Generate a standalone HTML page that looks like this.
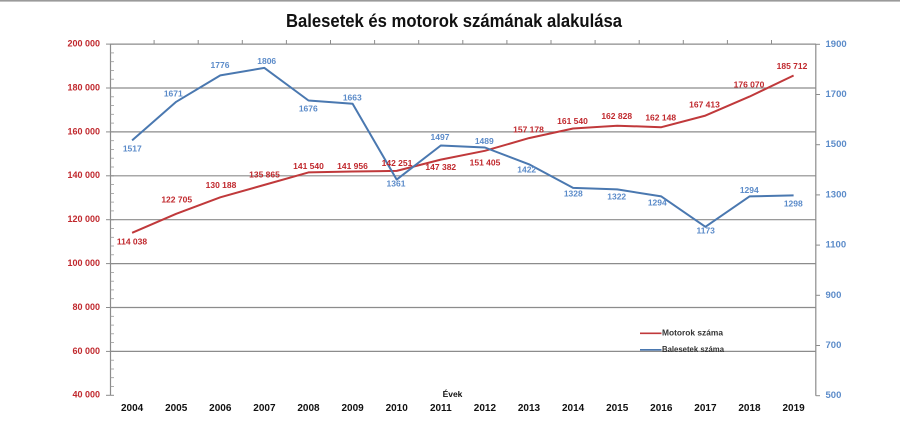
<!DOCTYPE html>
<html><head><meta charset="utf-8"><style>
html,body{margin:0;padding:0;background:#fff;}
svg{display:block;}
text{font-family:"Liberation Sans",sans-serif;}
</style></head><body>
<svg width="900" height="424" viewBox="0 0 900 424" xmlns="http://www.w3.org/2000/svg">
<rect x="0" y="0" width="900" height="424" fill="#fff"/>
<rect x="0" y="0" width="900" height="1.6" fill="#9a9a9a"/>
<text x="286" y="27" font-size="18" font-weight="bold" fill="#111" textLength="336" lengthAdjust="spacingAndGlyphs">Balesetek és motorok számának alakulása</text>

<!-- gridlines -->
<g stroke="#8c8c8c" stroke-width="1.2">
<line x1="110" y1="44.1" x2="816" y2="44.1"/>
<line x1="110" y1="88" x2="816" y2="88"/>
<line x1="110" y1="131.9" x2="816" y2="131.9"/>
<line x1="110" y1="175.8" x2="816" y2="175.8"/>
<line x1="110" y1="219.7" x2="816" y2="219.7"/>
<line x1="110" y1="263.6" x2="816" y2="263.6"/>
<line x1="110" y1="307.5" x2="816" y2="307.5"/>
<line x1="110" y1="351.4" x2="816" y2="351.4"/>
</g>
<!-- axes -->
<g stroke="#8c8c8c" stroke-width="1.2">
<line x1="110.5" y1="44" x2="110.5" y2="395.5"/>
<line x1="815.8" y1="44" x2="815.8" y2="395.8"/>
</g>
<g stroke="#8c8c8c" stroke-width="1">
<line x1="154.1" y1="44" x2="154.1" y2="40"/><line x1="198.2" y1="44" x2="198.2" y2="40"/><line x1="242.3" y1="44" x2="242.3" y2="40"/><line x1="286.4" y1="44" x2="286.4" y2="40"/><line x1="330.5" y1="44" x2="330.5" y2="40"/><line x1="374.6" y1="44" x2="374.6" y2="40"/><line x1="418.7" y1="44" x2="418.7" y2="40"/><line x1="462.8" y1="44" x2="462.8" y2="40"/><line x1="506.9" y1="44" x2="506.9" y2="40"/><line x1="551" y1="44" x2="551" y2="40"/><line x1="595.1" y1="44" x2="595.1" y2="40"/><line x1="639.2" y1="44" x2="639.2" y2="40"/><line x1="683.3" y1="44" x2="683.3" y2="40"/><line x1="727.4" y1="44" x2="727.4" y2="40"/><line x1="771.5" y1="44" x2="771.5" y2="40"/>
<line x1="106" y1="44.1" x2="114" y2="44.1"/><line x1="106" y1="88" x2="114" y2="88"/><line x1="106" y1="131.9" x2="114" y2="131.9"/><line x1="106" y1="175.8" x2="114" y2="175.8"/><line x1="106" y1="219.7" x2="114" y2="219.7"/><line x1="106" y1="263.6" x2="114" y2="263.6"/><line x1="106" y1="307.5" x2="114" y2="307.5"/><line x1="106" y1="351.4" x2="114" y2="351.4"/><line x1="106" y1="395.3" x2="114" y2="395.3"/>
<line x1="815.8" y1="44.3" x2="820" y2="44.3"/><line x1="815.8" y1="94.5" x2="820" y2="94.5"/><line x1="815.8" y1="144.7" x2="820" y2="144.7"/><line x1="815.8" y1="194.9" x2="820" y2="194.9"/><line x1="815.8" y1="245.1" x2="820" y2="245.1"/><line x1="815.8" y1="295.3" x2="820" y2="295.3"/><line x1="815.8" y1="345.5" x2="820" y2="345.5"/><line x1="815.8" y1="395.7" x2="820" y2="395.7"/>
</g>
<g stroke="#9a9a9a" stroke-width="0.8">
<line x1="110.5" y1="52.9" x2="114" y2="52.9"/><line x1="110.5" y1="61.7" x2="114" y2="61.7"/><line x1="110.5" y1="70.4" x2="114" y2="70.4"/><line x1="110.5" y1="79.2" x2="114" y2="79.2"/>
<line x1="110.5" y1="96.8" x2="114" y2="96.8"/><line x1="110.5" y1="105.6" x2="114" y2="105.6"/><line x1="110.5" y1="114.3" x2="114" y2="114.3"/><line x1="110.5" y1="123.1" x2="114" y2="123.1"/>
<line x1="110.5" y1="140.7" x2="114" y2="140.7"/><line x1="110.5" y1="149.5" x2="114" y2="149.5"/><line x1="110.5" y1="158.2" x2="114" y2="158.2"/><line x1="110.5" y1="167" x2="114" y2="167"/>
<line x1="110.5" y1="184.6" x2="114" y2="184.6"/><line x1="110.5" y1="193.4" x2="114" y2="193.4"/><line x1="110.5" y1="202.1" x2="114" y2="202.1"/><line x1="110.5" y1="210.9" x2="114" y2="210.9"/>
<line x1="110.5" y1="228.5" x2="114" y2="228.5"/><line x1="110.5" y1="237.3" x2="114" y2="237.3"/><line x1="110.5" y1="246" x2="114" y2="246"/><line x1="110.5" y1="254.8" x2="114" y2="254.8"/>
<line x1="110.5" y1="272.4" x2="114" y2="272.4"/><line x1="110.5" y1="281.2" x2="114" y2="281.2"/><line x1="110.5" y1="289.9" x2="114" y2="289.9"/><line x1="110.5" y1="298.7" x2="114" y2="298.7"/>
<line x1="110.5" y1="316.3" x2="114" y2="316.3"/><line x1="110.5" y1="325.1" x2="114" y2="325.1"/><line x1="110.5" y1="333.8" x2="114" y2="333.8"/><line x1="110.5" y1="342.6" x2="114" y2="342.6"/>
<line x1="110.5" y1="360.2" x2="114" y2="360.2"/><line x1="110.5" y1="369" x2="114" y2="369"/><line x1="110.5" y1="377.7" x2="114" y2="377.7"/><line x1="110.5" y1="386.5" x2="114" y2="386.5"/>
</g>

<g font-size="9" font-weight="bold" fill="#c0282d" text-anchor="end" dominant-baseline="middle">
<text x="100" y="44.1">200 000</text><text x="100" y="88">180 000</text><text x="100" y="131.9">160 000</text><text x="100" y="175.8">140 000</text><text x="100" y="219.7">120 000</text><text x="100" y="263.6">100 000</text><text x="100" y="307.5">80 000</text><text x="100" y="351.4">60 000</text><text x="100" y="395.3">40 000</text>
</g>
<g font-size="9.5" font-weight="bold" fill="#5b8bc9" dominant-baseline="middle">
<text x="825.5" y="44.3">1900</text><text x="825.5" y="94.5">1700</text><text x="825.5" y="144.7">1500</text><text x="825.5" y="194.9">1300</text><text x="825.5" y="245.1">1100</text><text x="825.5" y="295.3">900</text><text x="825.5" y="345.5">700</text><text x="825.5" y="395.7">500</text>
</g>
<g font-size="10" font-weight="bold" fill="#111" text-anchor="middle" dominant-baseline="middle">
<text x="132.1" y="408.5">2004</text><text x="176.2" y="408.5">2005</text><text x="220.3" y="408.5">2006</text><text x="264.4" y="408.5">2007</text><text x="308.5" y="408.5">2008</text><text x="352.6" y="408.5">2009</text><text x="396.7" y="408.5">2010</text><text x="440.8" y="408.5">2011</text><text x="484.9" y="408.5">2012</text><text x="529" y="408.5">2013</text><text x="573.1" y="408.5">2014</text><text x="617.2" y="408.5">2015</text><text x="661.3" y="408.5">2016</text><text x="705.4" y="408.5">2017</text><text x="749.5" y="408.5">2018</text><text x="793.6" y="408.5">2019</text>
</g>
<text x="452.5" y="394.5" font-size="8.5" font-weight="bold" fill="#111" text-anchor="middle" dominant-baseline="middle">Évek</text>

<polyline fill="none" stroke="#c0393b" stroke-width="2" stroke-linejoin="round" points="132.1,232.8 176.2,213.8 220.3,197.3 264.4,184.9 308.5,172.4 352.6,171.5 396.7,170.9 440.8,159.6 484.9,150.8 529,138.1 573.1,128.5 617.2,125.7 661.3,127.2 705.4,115.6 749.5,96.6 793.6,75.5"/>
<polyline fill="none" stroke="#4a78b0" stroke-width="2" stroke-linejoin="round" points="132.1,140.4 176.2,101.8 220.3,75.4 264.4,67.9 308.5,100.5 352.6,103.8 396.7,179.6 440.8,145.5 484.9,147.5 529,164.3 573.1,187.9 617.2,189.4 661.3,196.4 705.4,226.8 749.5,196.4 793.6,195.4"/>

<g font-size="8.5" font-weight="bold" fill="#c0282d" text-anchor="middle" dominant-baseline="middle">
<text x="132" y="242">114 038</text>
<text x="176.7" y="200">122 705</text>
<text x="221" y="185.7">130 188</text>
<text x="264.5" y="175">135 865</text>
<text x="308.5" y="166.7">141 540</text>
<text x="352.5" y="166.7">141 956</text>
<text x="397" y="163.7">142 251</text>
<text x="440.8" y="167.5">147 382</text>
<text x="485" y="163.3">151 405</text>
<text x="528.5" y="130">157 178</text>
<text x="572.5" y="121.7">161 540</text>
<text x="616.7" y="116.7">162 828</text>
<text x="660.7" y="118.3">162 148</text>
<text x="704.5" y="105">167 413</text>
<text x="749" y="85">176 070</text>
<text x="792" y="66.7">185 712</text>
</g>
<g font-size="8.5" font-weight="bold" fill="#5b8bc9" text-anchor="middle" dominant-baseline="middle">
<text x="132.3" y="149">1517</text>
<text x="173.3" y="94.3">1671</text>
<text x="220" y="65.7">1776</text>
<text x="266.7" y="61.7">1806</text>
<text x="308.3" y="109.3">1676</text>
<text x="352.3" y="98.3">1663</text>
<text x="396" y="184.3">1361</text>
<text x="440" y="137.7">1497</text>
<text x="484.3" y="141.7">1489</text>
<text x="526.7" y="170">1422</text>
<text x="573.3" y="194.3">1328</text>
<text x="616.7" y="197.3">1322</text>
<text x="657.3" y="203.3">1294</text>
<text x="705.7" y="231">1173</text>
<text x="749.3" y="190.7">1294</text>
<text x="793.3" y="204">1298</text>
</g>

<line x1="640" y1="333.3" x2="661.5" y2="333.3" stroke="#c0393b" stroke-width="1.6"/>
<line x1="640" y1="349.8" x2="661.5" y2="349.8" stroke="#4a78b0" stroke-width="1.6"/>
<g font-size="8" font-weight="bold" fill="#333" dominant-baseline="middle">
<text x="662" y="333.3" textLength="61" lengthAdjust="spacingAndGlyphs">Motorok száma</text>
<text x="662" y="350" textLength="62" lengthAdjust="spacingAndGlyphs">Balesetek száma</text>
</g>
</svg>
</body></html>
